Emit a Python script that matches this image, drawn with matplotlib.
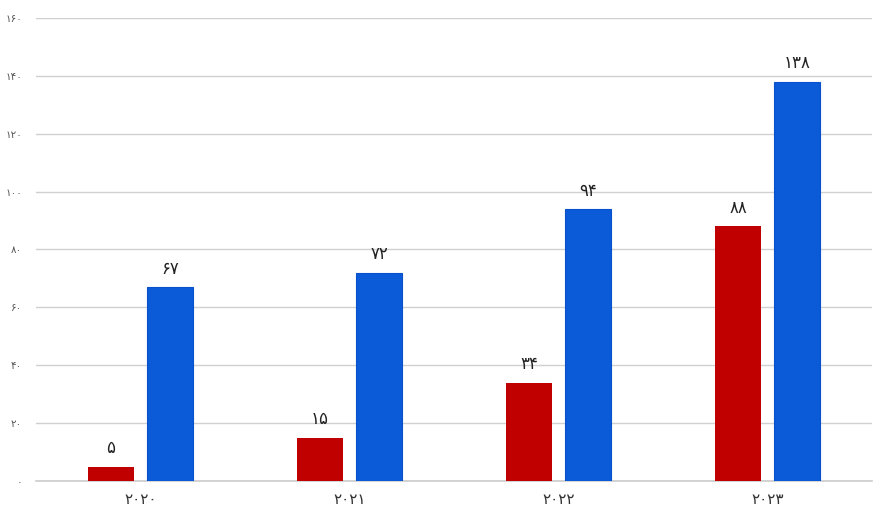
import matplotlib.pyplot as plt
import numpy as np

plt.rcParams['font.family'] = ['DejaVu Sans']

years = ['۲۰۲۰', '۲۰۲۱', '۲۰۲۲', '۲۰۲۳']
red_vals = [5, 15, 34, 88]
blue_vals = [67, 72, 94, 138]
red_labels = ['۵', '۱۵', '۳۴', '۸۸']
blue_labels = ['۶۷', '۷۲', '۹۴', '۱۳۸']
yticks = [0, 20, 40, 60, 80, 100, 120, 140, 160]
ytick_labels = ['۰', '۲۰', '۴۰', '۶۰', '۸۰', '۱۰۰', '۱۲۰', '۱۴۰', '۱۶۰']

fig = plt.figure(figsize=(8.85, 5.2), dpi=100)
ax = fig.add_axes([0.0407, 0.075, 0.9446, 0.8904])

x = np.arange(len(years))
w = 0.22
off = 0.141
b1 = ax.bar(x - off, red_vals, w, color='#c00000', zorder=3)
b2 = ax.bar(x + off, blue_vals, w, color='#0b5bd8', edgecolor='#0a4fcc', linewidth=0.8, zorder=3)

for rect, lab in zip(b1, red_labels):
    ax.text(rect.get_x() + rect.get_width() / 2, rect.get_height() + 3.2, lab,
            ha='center', va='bottom', fontsize=12, color='#222222')
for rect, lab in zip(b2, blue_labels):
    ax.text(rect.get_x() + rect.get_width() / 2, rect.get_height() + 3.2, lab,
            ha='center', va='bottom', fontsize=12, color='#222222')

ax.set_xlim(-0.5, 3.5)
ax.set_ylim(0, 160)
ax.set_yticks(yticks)
ax.set_yticklabels(ytick_labels, fontsize=7.5, color='#555555')
ax.set_xticks(x)
ax.set_xticklabels(years, fontsize=11, color='#333333')
ax.tick_params(axis='both', length=0)
ax.tick_params(axis='y', pad=10)
ax.tick_params(axis='x', pad=8)
ax.grid(axis='y', color='#d0d0d0', linewidth=1, zorder=0)
for s in ['top', 'right', 'left']:
    ax.spines[s].set_visible(False)
ax.spines['bottom'].set_color('#cccccc')
ax.spines['bottom'].set_linewidth(1.2)

fig.savefig('out.png', dpi=100)
